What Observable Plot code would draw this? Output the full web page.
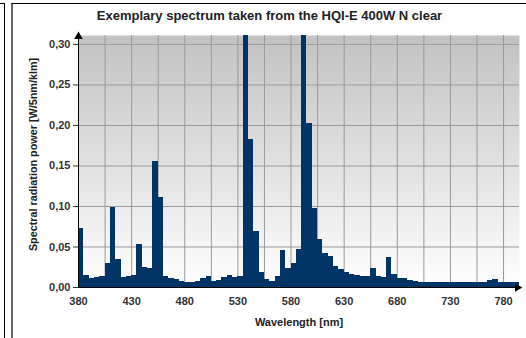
<!DOCTYPE html>
<html>
<head>
<meta charset="utf-8">
<script src="https://cdn.jsdelivr.net/npm/d3@7"></script>
<script src="https://cdn.jsdelivr.net/npm/@observablehq/plot@0.6"></script>
<style>
  html, body { margin: 0; padding: 0; background: #fff; }
  #wrap { position: relative; width: 526px; height: 338px; overflow: hidden; }
  #side { position: absolute; left: 0; top: 3px; width: 4px; height: 340px; border-right: 1px solid #000; border-top: 1px solid #000; }
  #panel { position: absolute; left: 11px; top: 3px; width: 520px; height: 340px; border-left: 2px solid #666; border-top: 1px solid #000; }
  #chart { position: absolute; left: 0; top: 0; }
</style>
</head>
<body>
<div id="wrap"><div id="side"></div><div id="panel"></div><div id="chart"></div></div>
<script>
const title = "Exemplary spectrum taken from the HQI-E 400W N clear";
const xLabel = "Wavelength [nm]";
const yLabel = "Spectral radiation power [W/5nm/klm]";

// 5 nm bins (left edge of each bin)
const wavelengths = [380,385,390,395,400,405,410,415,420,425,430,435,440,445,450,455,460,465,470,475,
  480,485,490,495,500,505,510,515,520,525,530,535,540,545,550,555,560,565,570,575,
  580,585,590,595,600,605,610,615,620,625,630,635,640,645,650,655,660,665,670,675,
  680,685,690,695,700,705,710,715,720,725,730,735,740,745,750,755,760,765,770,775,
  780,785,790];
const power = [0.073,0.015,0.011,0.012,0.013,0.030,0.099,0.035,0.012,0.013,0.015,0.053,0.025,0.024,0.155,0.111,0.013,0.011,0.010,0.008,
  0.006,0.006,0.007,0.011,0.014,0.008,0.009,0.012,0.015,0.012,0.013,0.450,0.183,0.069,0.019,0.010,0.007,0.014,0.046,0.023,
  0.030,0.047,0.400,0.203,0.097,0.059,0.042,0.038,0.026,0.022,0.019,0.016,0.015,0.014,0.014,0.023,0.013,0.012,0.037,0.016,
  0.011,0.011,0.009,0.007,0.006,0.006,0.006,0.006,0.006,0.006,0.006,0.006,0.006,0.006,0.006,0.006,0.006,0.009,0.010,0.006,
  0.006,0.006,0.006];
const binWidth = 5;
const xDomain = [380, 795];
const yDomain = [0, 0.311];
const xTickLabels = [380,430,480,530,580,630,680,730,780];
const xGrid = [380,405,430,455,480,505,530,555,580,605,630,655,680,705,730,755,780];
const yTicks = [0,0.05,0.10,0.15,0.20,0.25,0.30];

const data = wavelengths.map((w, i) => ({w, v: power[i]}));
const fmt = d => d3.format(".2f")(d).replace(".", ",");
const font = "'Liberation Sans', Arial, sans-serif";

const svg = Plot.plot({
  width: 526, height: 338,
  marginLeft: 78, marginRight: 7, marginTop: 35, marginBottom: 51,
  style: {fontFamily: font, fontSize: "11px", background: "transparent", overflow: "visible"},
  x: {domain: xDomain, label: null},
  y: {domain: yDomain, label: null},
  marks: [
    Plot.frame({fill: "url(#bg)", stroke: "none"}),
    Plot.gridX({ticks: xGrid, stroke: "#9a9a9a", strokeOpacity: 1}),
    Plot.gridY({ticks: yTicks, stroke: "#9a9a9a", strokeOpacity: 1}),
    Plot.rectY(data, {x1: "w", x2: d => d.w + binWidth, y: "v", fill: "#003366", clip: true, shapeRendering: "crispEdges"}),
    Plot.ruleX([xDomain[0]], {stroke: "#000"}),
    Plot.ruleY([0], {stroke: "#000"}),
    Plot.dot([0], {frameAnchor: "top-left", symbol: "triangle", r: 3.2, fill: "#000", stroke: null, dy: 1}),
    Plot.dot([0], {frameAnchor: "bottom-right", symbol: "triangle", r: 3.2, fill: "#000", stroke: null, rotate: 90, dx: -2}),
    Plot.axisY({ticks: yTicks, tickFormat: fmt, tickSize: 5, tickPadding: 3, fontSize: 11, fontWeight: "bold", color: "#333", label: null}),
    Plot.axisX({ticks: xTickLabels, tickFormat: d => String(d), tickSize: 0, tickPadding: 10, fontSize: 11, fontWeight: "bold", color: "#333", label: null}),
    Plot.text([title], {frameAnchor: "top", lineAnchor: "middle", dx: -29.5, dy: -20, fontSize: 13, fontWeight: "bold", fill: "#222"}),
    Plot.text([xLabel], {frameAnchor: "bottom", lineAnchor: "middle", dy: 35, fontSize: 11, fontWeight: "bold", fill: "#222"}),
    Plot.text([yLabel], {frameAnchor: "left", textAnchor: "middle", rotate: -90, dx: -45, dy: -7, fontSize: 10.8, fontWeight: "bold", fill: "#222"})
  ]
});

d3.select(svg).insert("defs", ":first-child").html(
  '<linearGradient id="bg" x1="0" y1="0" x2="0" y2="1">' +
  '<stop offset="0" stop-color="#c2c2c2"/><stop offset="1" stop-color="#ffffff"/></linearGradient>');

document.getElementById("chart").appendChild(svg);
</script>
</body>
</html>
